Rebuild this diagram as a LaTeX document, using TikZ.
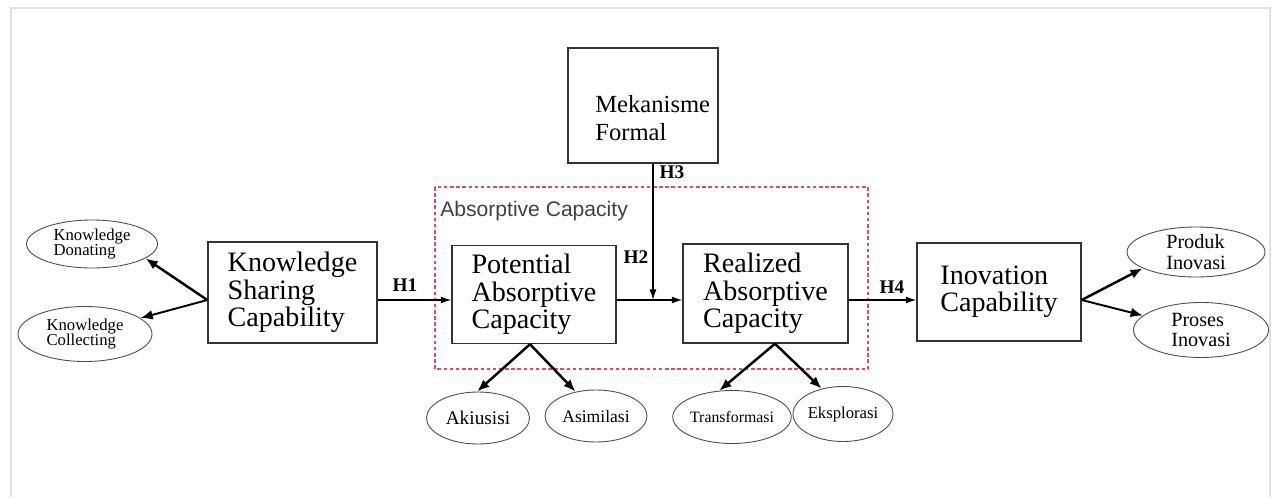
\documentclass[tikz,border=0pt]{standalone}
\usepackage{fontspec}
\setmainfont{Liberation Serif}
\setsansfont{Liberation Sans}
\usetikzlibrary{arrows.meta, positioning, shapes.geometric}

\begin{document}
\begin{tikzpicture}[x=0.02cm, y=-0.02cm,
  kotak/.style={draw=black!80, line width=0.8pt, align=left, inner sep=2pt,
    font=\fontsize{16}{15.5}\selectfont},
  elips/.style={draw=black!70, ellipse, line width=0.5pt, inner sep=0pt,
    align=left, font=\fontsize{9.5}{9}\selectfont},
  panah/.style={-{Latex[length=6pt,width=4pt]}, line width=0.8pt},
  panahtebal/.style={-{Latex[length=7pt,width=5.5pt]}, line width=1.4pt},
  hlabel/.style={font=\bfseries\fontsize{11}{11}\selectfont}]

  \useasboundingbox (0,0) rectangle (1277,497);
  \draw[black!12, line width=0.6pt] (11,497) -- (11,8) -- (1270,8) -- (1270,497);

  % kotak utama
  \node[kotak, minimum width=3.38cm, minimum height=2.02cm] (ks) at (292.5,292.5)
    {Knowledge\\Sharing\\Capability};
  \node[kotak, minimum width=3.28cm, minimum height=1.96cm] (pac) at (534,294.5)
    {Potential\\Absorptive\\Capacity};
  \node[kotak, minimum width=3.3cm, minimum height=1.98cm] (rac) at (765.5,293.5)
    {Realized\\Absorptive\\Capacity};
  \node[kotak, minimum width=3.28cm, minimum height=1.96cm] (ic) at (999,292)
    {Inovation\\Capability};
  \node[kotak, minimum width=3cm, minimum height=2.3cm] (mf) at (643,105.5) {};
  \node[align=left, inner sep=0pt, anchor=west, font=\fontsize{14}{16}\selectfont]
    (mftxt) at (595,118) {Mekanisme\\Formal};

  % kotak absorptive capacity
  \draw[draw={rgb,255:red,220;green,80;blue,90}, line width=0.6pt,
    dash pattern=on 2pt off 1.5pt] (435,187) rectangle (868,369);
  \node[anchor=west, inner sep=0pt, text=black!75, font=\sffamily\fontsize{12}{12}\selectfont]
    (ac) at (440,211) {Absorptive Capacity};

  % dimensi
  \node[elips, minimum width=2.62cm, minimum height=0.96cm] (don) at (92,244)
    {Knowledge\\Donating};
  \node[elips, minimum width=2.68cm, minimum height=1.1cm] (col) at (85,334)
    {Knowledge\\Collecting};
  \node[elips, minimum width=2.76cm, minimum height=1.0cm,
    font=\fontsize{11.5}{11.5}\selectfont] (pro) at (1196,252) {Produk\\Inovasi};
  \node[elips, minimum width=2.7cm, minimum height=1.1cm,
    font=\fontsize{11.5}{11.5}\selectfont] (prs) at (1201,330) {Proses\\Inovasi};
  \node[elips, minimum width=2.06cm, minimum height=1.04cm,
    font=\fontsize{11}{11}\selectfont] (aku) at (478,418) {Akiusisi};
  \node[elips, minimum width=2.04cm, minimum height=1.04cm,
    font=\fontsize{10}{10}\selectfont] (asi) at (596,416) {Asimilasi};
  \node[elips, minimum width=2.18cm, minimum height=1.06cm,
    font=\fontsize{9}{9}\selectfont] (tra) at (732,417) {Transformasi};
  \node[elips, minimum width=2.0cm, minimum height=1.1cm] (eks) at (843,414) {Eksplorasi};

  % hipotesis
  \coordinate (jalur) at (0,300);
  \coordinate (titikH3) at (653,300);
  \draw[panah] (ks.east |- jalur) -- (pac.west |- jalur);
  \draw[panah] (pac.east |- jalur) -- (rac.west |- jalur);
  \draw[panah] (rac.east |- jalur) -- (ic.west |- jalur);
  \draw[panah] (mf.south -| titikH3) -- (titikH3);
  \node[hlabel] (h1) at (405,285) {H1};
  \node[hlabel] (h2) at (636,257) {H2};
  \node[hlabel] (h3) at (672,172) {H3};
  \node[hlabel] (h4) at (892,287) {H4};

  % panah ke dimensi
  \draw[panahtebal] (ks.west |- jalur) -- (don.-15);
  \draw[panahtebal, line width=1.1pt] (ks.west |- jalur) -- (col.16);
  \draw[panahtebal] ([xshift=-0.08cm]pac.south) -- (aku.92);
  \draw[panahtebal] ([xshift=-0.08cm]pac.south) -- (asi.130);
  \draw[panahtebal] ([xshift=0.19cm]rac.south) -- (tra.116);
  \draw[panahtebal] ([xshift=0.19cm]rac.south) -- (eks.130);
  \draw[panahtebal] (ic.east |- jalur) -- (pro.197);
  \draw[panahtebal, line width=1.1pt] (ic.east |- jalur) -- (prs.166);
\end{tikzpicture}
\end{document}
